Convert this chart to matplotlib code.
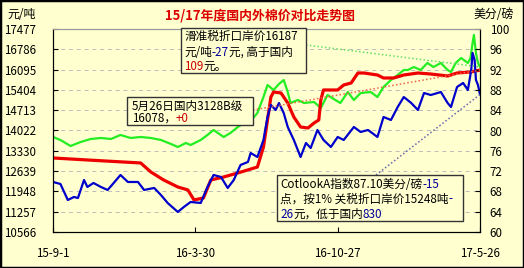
import matplotlib
matplotlib.use('Agg')
import matplotlib.pyplot as plt
import matplotlib.dates as mdates
from matplotlib.patches import Rectangle
from matplotlib.lines import Line2D
import pandas as pd

plt.rcParams['font.family'] = ['Noto Sans CJK SC', 'DejaVu Sans']

W, H = 524, 268
BG = '#FFFFD0'

# 滑准税折口岸价 (green)
green_dates = ['2015-09-01', '2015-09-12', '2015-09-27', '2015-10-12', '2015-10-27', '2015-11-11',
               '2015-11-26', '2015-12-10', '2015-12-25', '2016-01-09', '2016-01-24', '2016-02-08',
               '2016-02-23', '2016-03-04', '2016-03-16', '2016-03-23', '2016-04-07', '2016-04-17',
               '2016-04-26', '2016-05-11', '2016-05-21', '2016-06-01', '2016-06-10', '2016-06-20',
               '2016-06-30', '2016-07-09', '2016-07-15', '2016-07-24', '2016-08-01', '2016-08-08',
               '2016-08-14', '2016-08-18', '2016-08-29', '2016-09-07', '2016-09-22', '2016-10-02',
               '2016-10-12', '2016-10-21', '2016-10-31', '2016-11-11', '2016-11-20', '2016-11-30',
               '2016-12-15', '2016-12-25', '2017-01-03', '2017-01-14', '2017-01-24', '2017-02-02',
               '2017-02-08', '2017-02-17', '2017-02-27', '2017-03-09', '2017-03-18', '2017-03-29',
               '2017-04-08', '2017-04-13', '2017-04-20', '2017-04-28', '2017-05-08', '2017-05-12',
               '2017-05-15', '2017-05-17', '2017-05-20', '2017-05-23', '2017-05-26']
green_vals = [13801, 13699, 13494, 13630, 13733, 13767,
              13733, 13869, 13767, 13801, 13767, 13699,
              13562, 13460, 13596, 13528, 13699, 13869,
              14039, 13801, 13937, 14141, 14277, 14345,
              14618, 15162, 15571, 15401, 15605, 15741,
              15332, 14958, 15060, 14958, 14992, 14788,
              15230, 15094, 14958, 15332, 15060, 15298,
              15332, 15162, 15503, 15741, 15911, 16081,
              16081, 16183, 16081, 16320, 16183, 16320,
              16081, 16013, 16320, 16490, 16320, 16490,
              17000, 17273, 16660, 16320, 16187]

# 国内3128B (red)
red_dates = ['2015-09-01', '2015-10-22', '2016-01-09', '2016-01-24', '2016-02-12', '2016-03-04',
             '2016-03-19', '2016-03-28', '2016-04-11', '2016-04-22', '2016-05-11', '2016-06-01',
             '2016-06-30', '2016-07-09', '2016-07-15', '2016-07-20', '2016-07-24', '2016-08-04',
             '2016-08-14', '2016-08-23', '2016-09-02', '2016-09-13', '2016-09-22', '2016-09-29',
             '2016-10-02', '2016-10-06', '2016-10-27', '2016-11-05', '2016-11-16', '2016-11-26',
             '2016-12-05', '2016-12-25', '2017-01-03', '2017-01-18', '2017-02-02', '2017-02-23',
             '2017-03-14', '2017-04-08', '2017-04-22', '2017-05-12', '2017-05-26']
red_vals = [13086, 13018, 12916, 12609, 12337, 12099,
            11997, 11656, 11724, 12337, 12439, 12575,
            12779, 13460, 14379, 15162, 15332, 15298,
            14958, 14481, 14141, 14107, 14277, 14379,
            15060, 15401, 15401, 15571, 15639, 15979,
            15979, 15911, 15809, 15809, 15911, 15979,
            15945, 15877, 15979, 16013, 16078]

# 1%关税折口岸价 (blue)
blue_dates = ['2015-09-01', '2015-09-12', '2015-09-23', '2015-10-02', '2015-10-08', '2015-10-17',
              '2015-10-22', '2015-10-31', '2015-11-11', '2015-11-21', '2015-11-30', '2015-12-10',
              '2015-12-21', '2016-01-05', '2016-01-14', '2016-01-29', '2016-02-08', '2016-02-18',
              '2016-03-04', '2016-03-13', '2016-03-23', '2016-04-07', '2016-04-17', '2016-04-26',
              '2016-05-07', '2016-05-17', '2016-05-26', '2016-06-05', '2016-06-16', '2016-06-20',
              '2016-06-30', '2016-07-09', '2016-07-15', '2016-07-20', '2016-07-27', '2016-08-01',
              '2016-08-08', '2016-08-14', '2016-08-23', '2016-09-02', '2016-09-10', '2016-09-17',
              '2016-09-27', '2016-10-06', '2016-10-17', '2016-10-27', '2016-11-05', '2016-11-20',
              '2016-11-30', '2016-12-11', '2016-12-25', '2017-01-03', '2017-01-14', '2017-01-24',
              '2017-02-02', '2017-02-13', '2017-02-23', '2017-03-04', '2017-03-14', '2017-03-29',
              '2017-04-08', '2017-04-13', '2017-04-22', '2017-05-01', '2017-05-08', '2017-05-13',
              '2017-05-15', '2017-05-18', '2017-05-20', '2017-05-23', '2017-05-26']
blue_vals = [12269, 12201, 11656, 11758, 11724, 12337,
             12099, 12235, 12099, 11997, 12235, 12507,
             12269, 12269, 11997, 12065, 11826, 11554,
             11248, 11418, 11588, 11554, 12099, 12507,
             12439, 12065, 12337, 12848, 12950, 13256,
             13120, 13699, 14481, 14890, 14720, 14958,
             14618, 14141, 13699, 13120, 13596, 13426,
             14039, 13699, 13460, 13801, 13699, 14141,
             13971, 14039, 13801, 14481, 14379, 14822,
             15162, 14958, 14720, 15298, 15230, 15332,
             14958, 14822, 15503, 15639, 15401, 16081,
             16660, 16422, 15741, 15571, 15248]

left_ticks = [10566, 11257, 11948, 12639, 13330, 14022, 14713, 15404, 16095, 16786, 17477]
right_ticks = [60, 64, 68, 72, 76, 80, 84, 88, 92, 96, 100]
xtick_dates = ['2015-09-01', '2016-03-30', '2016-10-27', '2017-05-26']
xtick_labels = ['15-9-1', '16-3-30', '16-10-27', '17-5-26']


def fx(px):
    return px / W


def fy(py):
    return 1 - py / H


fig = plt.figure(figsize=(W / 100, H / 100), dpi=100, facecolor=BG)
ax = fig.add_axes([fx(53), fy(232), (480 - 53) / W, (232 - 29) / H])
ax.set_facecolor(BG)
ax.set_axisbelow(True)

ax.plot(pd.to_datetime(green_dates), green_vals, color='#22EE22', lw=1.6, zorder=3)
ax.plot(pd.to_datetime(red_dates), red_vals, color='#EE0000', lw=2.3, zorder=4)
ax.plot(pd.to_datetime(blue_dates), blue_vals, color='#0000CC', lw=1.6, zorder=5)

ax.set_xlim(pd.Timestamp('2015-09-01'), pd.Timestamp('2017-05-26'))
ax.set_ylim(left_ticks[0], left_ticks[-1])
ax.set_yticks(left_ticks)
ax.set_yticklabels([str(v) for v in left_ticks])
ax.set_xticks(pd.to_datetime(xtick_dates))
ax.set_xticklabels(xtick_labels)
ax.yaxis.grid(True, color='#BBBBBB', ls=(0, (4, 4)), lw=0.7)
ax.tick_params(direction='in', length=3.5, labelsize=8.3, color='black')
ax.tick_params(axis='y', pad=12)
ax.tick_params(axis='x', pad=11)
ax.spines['top'].set_color('#999999')

ax2 = ax.twinx()
ax2.set_ylim(60, 100)
ax2.set_yticks(right_ticks)
ax2.tick_params(direction='in', length=3.5, labelsize=8.3, pad=7)
ax2.spines['top'].set_color('#999999')

fig.text(fx(260), fy(15), '15/17年度国内外棉价对比走势图', ha='center', va='center',
         fontsize=9.3, weight='bold', color='#DD0000')
fig.text(fx(7), fy(15), '元/吨', ha='left', va='center', fontsize=8.6)
fig.text(fx(473), fy(15), '美分/磅', ha='left', va='center', fontsize=8.6)

renderer = fig.canvas.get_renderer()
BLK, RED, BLU = 'black', '#CC0000', '#000099'


def rich(xpx, ypx, pieces):
    x = xpx
    for s, c in pieces:
        t = fig.text(fx(x), fy(ypx), s, color=c, fontsize=8.4, ha='left', va='baseline', zorder=7)
        x += t.get_window_extent(renderer).width


def box(x0, y0, x1, y1):
    fig.add_artist(Rectangle((fx(x0), fy(y1)), (x1 - x0) / W, (y1 - y0) / H,
                             transform=fig.transFigure, facecolor=BG,
                             edgecolor='#333333', lw=1, zorder=6))


def leader(px, py, date, val, color):
    # end point of the series, taken through the axes' own transform
    disp = ax.transData.transform((mdates.date2num(pd.Timestamp(date)), val))
    ex, ey = fig.transFigure.inverted().transform(disp)
    fig.add_artist(Line2D([fx(px), ex], [fy(py), ey], transform=fig.transFigure,
                          color=color, ls=(0, (1, 1.5)), lw=1.1, zorder=5))


leader(306, 45, green_dates[-1], green_vals[-1], '#66DD66')
leader(253, 110, red_dates[-1], red_vals[-1], '#EE6644')
leader(376, 175, blue_dates[-1], blue_vals[-1], '#6666AA')

box(181, 28, 306, 73)
rich(184, 39.5, [('滑准税折口岸价16187', BLK)])
rich(184, 55.5, [('元/吨', BLK), ('-27', BLU), ('元, 高于国内', BLK)])
rich(184, 70.5, [('109', RED), ('元。', BLK)])

box(127, 97, 253, 125)
rich(132, 109.5, [('5月26日国内3128B级', BLK)])
rich(132, 121.5, [('16078，', BLK), ('+0', RED)])

box(277, 175, 463, 221)
rich(280, 188.5, [('CotlookA指数87.10美分/磅', BLK), ('-15', BLU)])
rich(280, 202.5, [('点，按1% 关税折口岸价15248吨', BLK), ('-', BLU)])
rich(280, 217.5, [('26', BLU), ('元，低于国内', BLK), ('830', BLU)])

fig.add_artist(Rectangle((0, 0), 1, 1, transform=fig.transFigure, fill=False,
                         edgecolor='black', lw=2.5, zorder=10))

fig.savefig('out.png', dpi=100, facecolor=BG)
